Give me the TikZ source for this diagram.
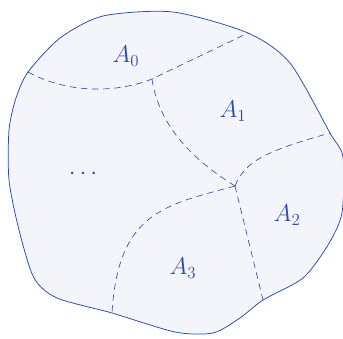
\documentclass[tikz,border=0pt]{standalone}
\usepackage{amsmath,amssymb}
\usepackage{xcolor}
\usepackage{tikz}
\usetikzlibrary{positioning}

\definecolor{setblue}{RGB}{48,76,165}
\definecolor{setfill}{RGB}{243,245,250}

\begin{document}
\begin{tikzpicture}[
    x=0.03cm, y=-0.03cm,
    region/.style={draw=setblue, fill=setfill, line width=0.65pt},
    cut/.style={draw=setblue, dash pattern=on 5.5pt off 4pt, line width=0.55pt},
    part/.style={text=setblue, font=\fontsize{20}{22}\selectfont}
]
\useasboundingbox (0,0) rectangle (343,338);

% boundary of the whole set
\path[region] plot[smooth cycle, tension=0.45] coordinates {
    (103,16) (173,12) (248,33) (290,63) (330,133) (343,157) (342,213)
    (328,245) (303,278) (263,300) (240,318) (213,333) (175,332) (112,313)
    (57,298) (34,278) (19,230) (9,180) (9,130) (16,98) (28,72) (60,38)};

% end points of the cuts
\coordinate (b0) at (28,72);
\coordinate (b1) at (248,33);
\coordinate (b2) at (330,133);
\coordinate (b3) at (263,300);
\coordinate (b4) at (112,313);
\coordinate (j0) at (152,79);
\coordinate (j1) at (235,186);

% cuts
\draw[cut] (b0) .. controls (70,95) and (120,92) .. (j0) -- (b1);
\draw[cut] (j0) .. controls (158,120) and (185,155) .. (j1);
\draw[cut] (j1) .. controls (245,160) and (270,150) .. (b2);
\draw[cut] (j1) .. controls (165,205) and (118,212) .. (b4);
\draw[cut] (j1) -- (b3);

% labels
\node[part] (a0) at (126,56) {$A_0$};
\node[part] (a1) at (233,111) {$A_1$};
\node[part] (a2) at (287,215) {$A_2$};
\node[part] (a3) at (183,268) {$A_3$};
\node[part] (dots) at (85,174) {$\cdots$};

\end{tikzpicture}
\end{document}
